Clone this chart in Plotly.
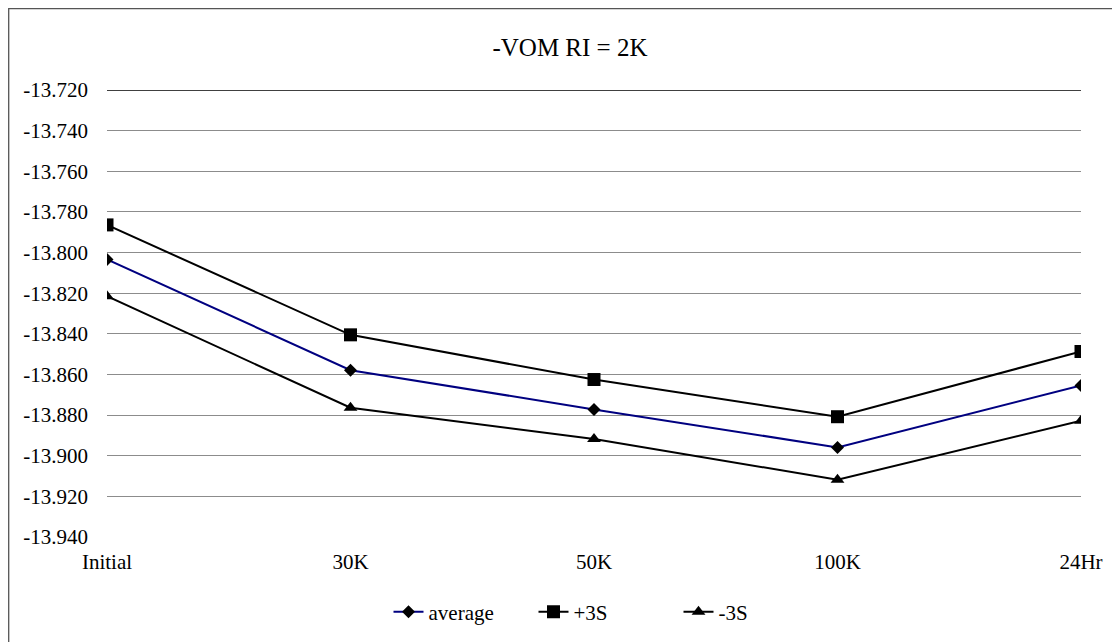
import plotly.graph_objects as go

# categories along the x axis
stages = ['Initial', '30K', '50K', '100K', '24Hr']

# series values
average = [-13.8034, -13.8579, -13.8772, -13.8959, -13.8654]
plus_3s = [-13.7864, -13.8405, -13.8625, -13.8808, -13.8487]
minus_3s = [-13.8215, -13.8764, -13.8918, -13.9118, -13.8828]

# y axis ticks
y_ticks = [-13.94, -13.92, -13.90, -13.88, -13.86, -13.84, -13.82,
           -13.80, -13.78, -13.76, -13.74, -13.72]
y_labels = [f'{v:.3f}' for v in y_ticks]

font_name = 'Liberation Serif, Times New Roman, serif'

fig = go.Figure()

fig.add_trace(go.Scatter(
    x=stages, y=average, name='average', mode='lines+markers',
    line=dict(color='#000080', width=2),
    marker=dict(symbol='diamond', size=10, color='black')
))
fig.add_trace(go.Scatter(
    x=stages, y=plus_3s, name='+3S', mode='lines+markers',
    line=dict(color='black', width=2),
    marker=dict(symbol='square', size=13, color='black')
))
fig.add_trace(go.Scatter(
    x=stages, y=minus_3s, name='-3S', mode='lines+markers',
    line=dict(color='black', width=2),
    marker=dict(symbol='triangle-up', size=12, color='black')
))

# the page puts the figure 8px in from the window corner,
# so pixel positions below are window positions minus 8
OFF = 8
L, R, T, B = 107 - OFF, 1081 - OFF, 90 - OFF, 537 - OFF
W, H = R - L, B - T

def px(x):
    return (x - OFF - L) / W

def py(y):
    return (B - (y - OFF)) / H

fig.update_layout(
    width=1120, height=642,
    margin=dict(l=L, r=1120 - R, t=T, b=642 - B, autoexpand=False),
    paper_bgcolor='white', plot_bgcolor='white',
    font=dict(family=font_name, size=21, color='black'),
    title=dict(text='-VOM RI = 2K', x=px(570), xanchor='center',
               xref='paper', y=1 - (47 - OFF) / 642, yanchor='middle',
               font=dict(size=25)),
    showlegend=True,
    legend=dict(orientation='h', x=px(606), xanchor='center',
                y=py(612), yanchor='middle', font=dict(size=21),
                entrywidth=100, entrywidthmode='pixels',
                bgcolor='rgba(0,0,0,0)'),
    xaxis=dict(type='category', range=[0, len(stages) - 1],
               showgrid=False, zeroline=False, showline=False,
               ticks='', ticklabelstandoff=10, tickfont=dict(size=21)),
    yaxis=dict(range=[y_ticks[0], y_ticks[-1]], tickvals=y_ticks,
               ticktext=y_labels, showgrid=True, gridcolor='#8c8c8c',
               gridwidth=1.3, zeroline=False, showline=False, ticks='',
               ticklabelstandoff=18, tickfont=dict(size=21)),
    shapes=[
        # black line along the top of the plot area
        dict(type='line', xref='paper', yref='y', x0=0, x1=1,
             y0=y_ticks[-1], y1=y_ticks[-1], line=dict(color='black', width=1.5)),
        # outer chart border (only left and top fall inside the picture)
        dict(type='rect', xref='paper', yref='paper',
             x0=px(8.7), x1=px(1140), y0=py(8.7), y1=py(660),
             line=dict(color='#555555', width=1.3)),
    ],
)

fig.write_html('out.html')
